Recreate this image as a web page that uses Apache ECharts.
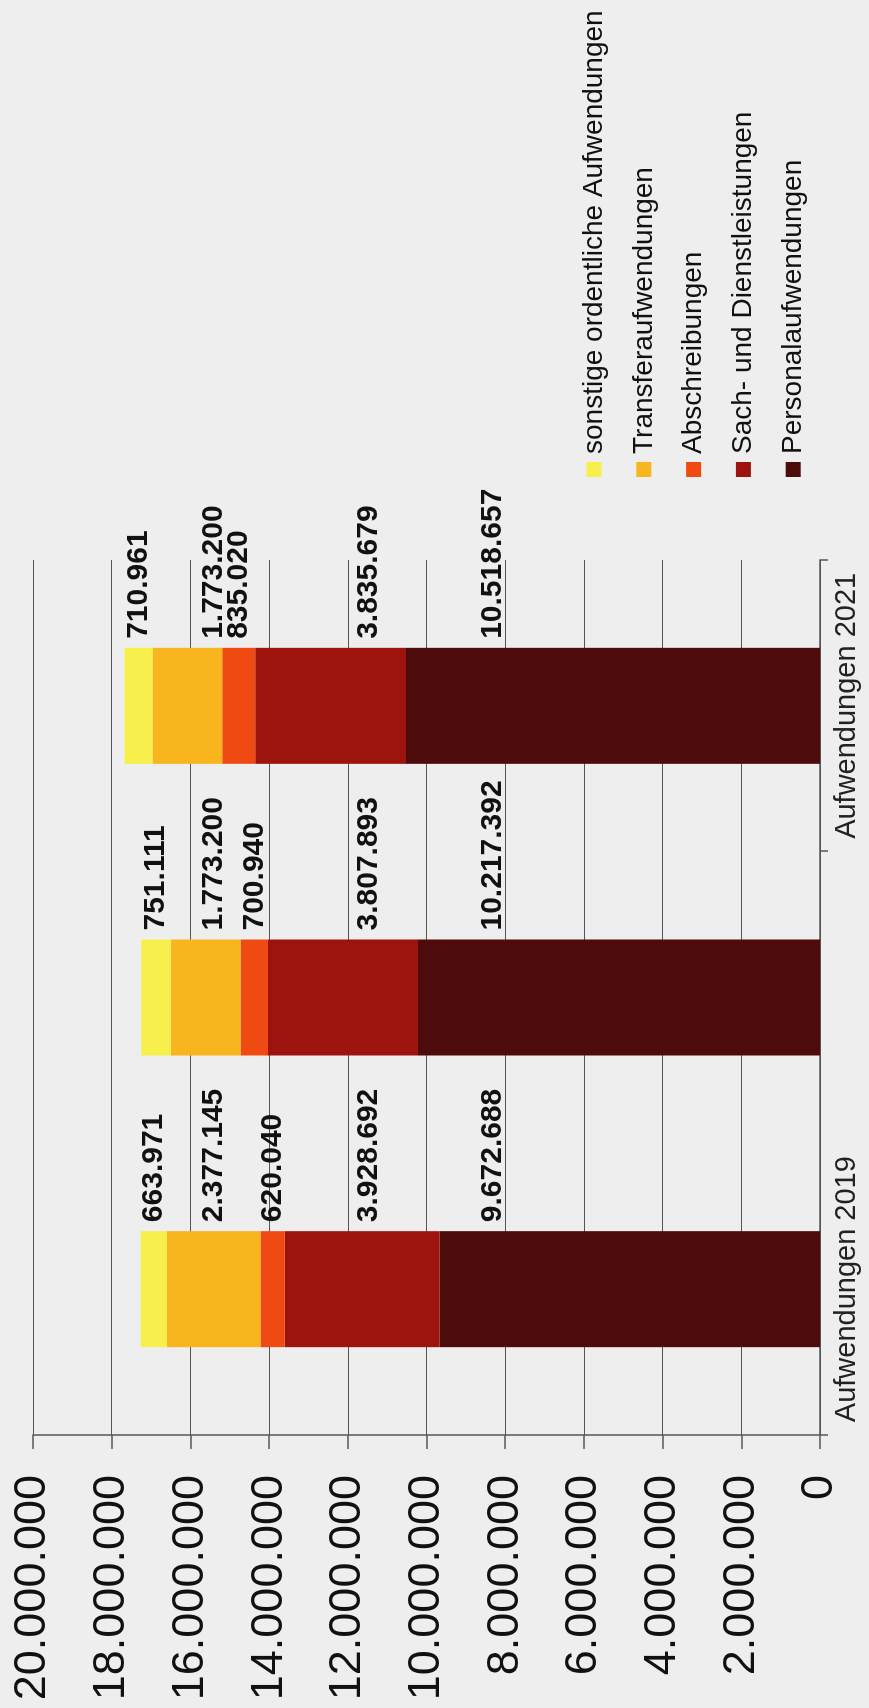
<!DOCTYPE html>
<html>
<head>
<meta charset="utf-8">
<script src="https://cdn.jsdelivr.net/npm/echarts@6/dist/echarts.min.js"></script>
<style>
  html, body { margin: 0; padding: 0; width: 869px; height: 1708px; overflow: hidden; background: #eeeeee; }
  #chart {
    position: absolute; left: 0; top: 0;
    width: 1708px; height: 869px;
    transform-origin: 0 0;
    transform: translate(0, 1708px) rotate(-90deg);
  }
</style>
</head>
<body>
<div id="chart"></div>
<script>
// ---- data ----
const categories = ['Aufwendungen 2019', 'Aufwendungen 2020', 'Aufwendungen 2021'];
const personal = [9672688, 10217392, 10518657];
const sach = [3928692, 3807893, 3835679];
const abschreibungen = [620040, 700940, 835020];
const transfer = [2377145, 1773200, 1773200];
const sonstige = [663971, 751111, 710961];
const axisMin = 0;
const axisMax = 20000000;
const axisStep = 2000000;

// ---- layout / style ----
const W = 1708, H = 869;
const grid = { left: 273, right: 560, top: 33, bottom: 49 };
const pxPerUnit = (H - grid.top - grid.bottom) / (axisMax - axisMin);
const fmt = v => String(Math.round(v)).replace(/\B(?=(\d{3})+(?!\d))/g, '.');
const FONT = "'Liberation Sans', Arial, Helvetica, sans-serif";

const seriesDefs = [
  { name: 'Personalaufwendungen', values: personal, color: '#4e0b0b', level: 8320000 },
  { name: 'Sach- und Dienstleistungen', values: sach, color: '#9c140d', level: 11460000 },
  { name: 'Abschreibungen', values: abschreibungen, color: '#f04a13', level: null },
  { name: 'Transferaufwendungen', values: transfer, color: '#f8b51d', level: 15410000 },
  { name: 'sonstige ordentliche Aufwendungen', values: sonstige, color: '#f6ef4c', level: null }
];

const base = categories.map(() => 0);
const series = seriesDefs.map(def => {
  const data = def.values.map((v, i) => {
    const mid = base[i] + v / 2;
    base[i] += v;
    const dy = def.level == null ? 0 : -(def.level - mid) * pxPerUnit;
    return { value: v, label: { offset: [0, dy] } };
  });
  return {
    name: def.name,
    type: 'bar',
    stack: 'total',
    barWidth: 116,
    itemStyle: { color: def.color },
    label: {
      show: true,
      position: 'right',
      distance: 9,
      fontFamily: FONT,
      fontSize: 30,
      fontWeight: 'bold',
      color: '#111',
      formatter: p => fmt(p.value)
    },
    data: data
  };
});

const chart = echarts.init(document.getElementById('chart'), null, { renderer: 'canvas', width: W, height: H });
chart.setOption({
  backgroundColor: '#eeeeee',
  animation: false,
  grid: grid,
  legend: {
    orient: 'vertical',
    left: 1226,
    top: 574,
    icon: 'rect',
    itemWidth: 15,
    itemHeight: 15,
    itemGap: 19.8,
    data: seriesDefs.map(d => d.name).reverse(),
    textStyle: { fontFamily: FONT, fontSize: 28, lineHeight: 30, color: '#111', padding: [0, 0, 0, 3] }
  },
  xAxis: {
    type: 'category',
    data: categories,
    axisLine: { show: true, lineStyle: { color: '#555', width: 1.5 } },
    axisTick: { show: true, length: 8, alignWithLabel: false, lineStyle: { color: '#555', width: 1.5 } },
    axisLabel: { fontFamily: FONT, fontSize: 29, color: '#222', margin: 12 },
    splitLine: { show: false }
  },
  yAxis: {
    type: 'value',
    min: axisMin,
    max: axisMax,
    interval: axisStep,
    axisLine: { show: true, lineStyle: { color: '#555', width: 1.5 } },
    axisTick: { show: true, length: 14, lineStyle: { color: '#555', width: 1.5 } },
    axisLabel: { fontFamily: FONT, fontSize: 45, color: '#111', margin: 40, formatter: v => fmt(v) },
    splitLine: { show: true, lineStyle: { color: '#555', width: 1.2 } }
  },
  series: series
});
</script>
</body>
</html>
